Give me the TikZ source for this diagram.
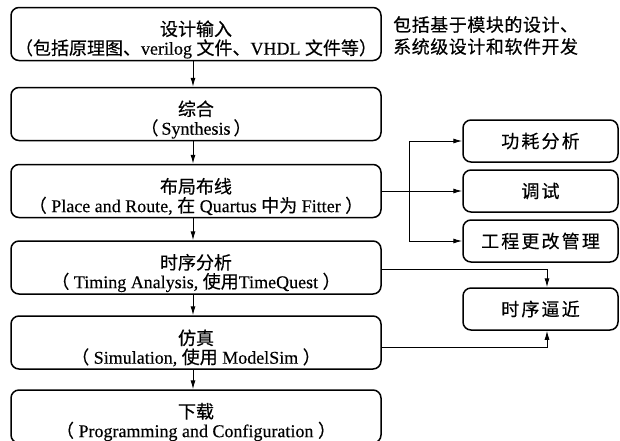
\documentclass[tikz,border=0pt]{standalone}
\usepackage{fontspec}
\setmainfont{Liberation Serif}
\newfontfamily\cjkfont[FakeBold=0.4]{Noto Sans CJK SC}
\newfontfamily\cjknote[FakeBold=0.4,LetterSpace=3]{Noto Sans CJK SC}
\newfontfamily\cjkwider[FakeBold=0.4,LetterSpace=12]{Noto Sans CJK SC}
\newfontfamily\latfont[FakeBold=0.3]{Liberation Serif}
\usetikzlibrary{arrows.meta}
\newcommand\lat[1]{{\latfont\fontsize{18}{19}\selectfont #1}}
\newcommand\zh[1]{{\cjkfont\fontsize{18}{19}\selectfont #1}}
\newcommand\zhn[1]{{\cjknote\fontsize{18}{22}\selectfont #1}}
\newcommand\zhr[1]{{\cjkwider\fontsize{18}{19}\selectfont #1}}
\begin{document}
\begin{tikzpicture}[x=1pt,y=-1pt,
  mainbox/.style={draw, line width=1.5pt, rounded corners=8pt, minimum width=370pt,
    minimum height=53pt, inner sep=0pt},
  boxtext/.style={inner sep=0pt, align=center, font=\fontsize{18}{19}\selectfont, yshift=-5.5pt},
  rbox/.style={draw, line width=1.5pt, rounded corners=8pt, minimum width=155pt,
    minimum height=42pt, inner sep=0pt, align=center, font=\fontsize{18}{19}\selectfont},
  arr/.style={line width=1pt, -{Latex[length=9pt,width=5pt]}},
  note/.style={inner sep=0pt, align=left, anchor=north west, font=\fontsize{18}{22}\selectfont}]
\useasboundingbox (0,0) rectangle (620,440);
\fill[white] (0,0) rectangle (620,440);

\node[mainbox] (b1) at (196,34) {};
\node[mainbox] (b2) at (196,114) {};
\node[mainbox] (b3) at (196,191) {};
\node[mainbox] (b4) at (196,267.5) {};
\node[mainbox] (b5) at (196,342.5) {};
\node[mainbox] (b6) at (196,416.5) {};

\node[boxtext] (t1) at (b1) {\zh{设计输入}\\\zh{（包括原理图、}\lat{verilog} \zh{文件、}\lat{VHDL} \zh{文件等）}};
\node[boxtext] (t2) at (b2) {\zh{综合}\\\zh{（}\lat{\,Synthesis\,}\zh{）}};
\node[boxtext] (t3) at (b3) {\zh{布局布线}\\\zh{（}\lat{ Place and Route,} \zh{在} \lat{Quartus} \zh{中为} \lat{Fitter }\zh{）}};
\node[boxtext] (t4) at (b4) {\zh{时序分析}\\\zh{（}\lat{ Timing Analysis,} \zh{使用}\lat{TimeQuest }\zh{）}};
\node[boxtext] (t5) at (b5) {\zh{仿真}\\\zh{（}\lat{ Simulation,} \zh{使用} \lat{ModelSim }\zh{）}};
\node[boxtext] (t6) at (b6) {\zh{下载}\\\zh{（}\lat{ Programming and Configuration }\zh{）}};

\node[note] (n1) at (393,16) {\zhn{包括基于模块的设计、}\\\zhn{系统级设计和软件开发}};

\node[rbox] (r1) at (540.5,141) {\zhr{功耗分析}};
\node[rbox] (r2) at (540.5,191) {\zhr{调试}};
\node[rbox] (r3) at (540.5,241) {\zhr{工程更改管理}};
\node[rbox] (r4) at (540.5,309) {\zhr{时序逼近}};

\draw[arr] ([xshift=-3pt]b1.south) -- ([xshift=-3pt]b2.north);
\draw[arr] ([xshift=-3pt]b2.south) -- ([xshift=-3pt]b3.north);
\draw[arr] ([xshift=-3pt]b3.south) -- ([xshift=-3pt]b4.north);
\draw[arr] ([xshift=-3pt]b4.south) -- ([xshift=-3pt]b5.north);
\draw[arr] ([xshift=-3pt]b5.south) -- ([xshift=-3pt]b6.north);

\coordinate (j) at (409,191);
\draw[arr] (b3.east) -- (r2.west);
\draw[arr] (j) |- (r1.west);
\draw[arr] (j) |- (r3.west);

\draw[arr] ([yshift=-1.5pt]b4.east) -| ([xshift=6.5pt]r4.north);
\draw[arr] ([yshift=-4.5pt]b5.east) -| ([xshift=6.5pt]r4.south);
\end{tikzpicture}
\end{document}
